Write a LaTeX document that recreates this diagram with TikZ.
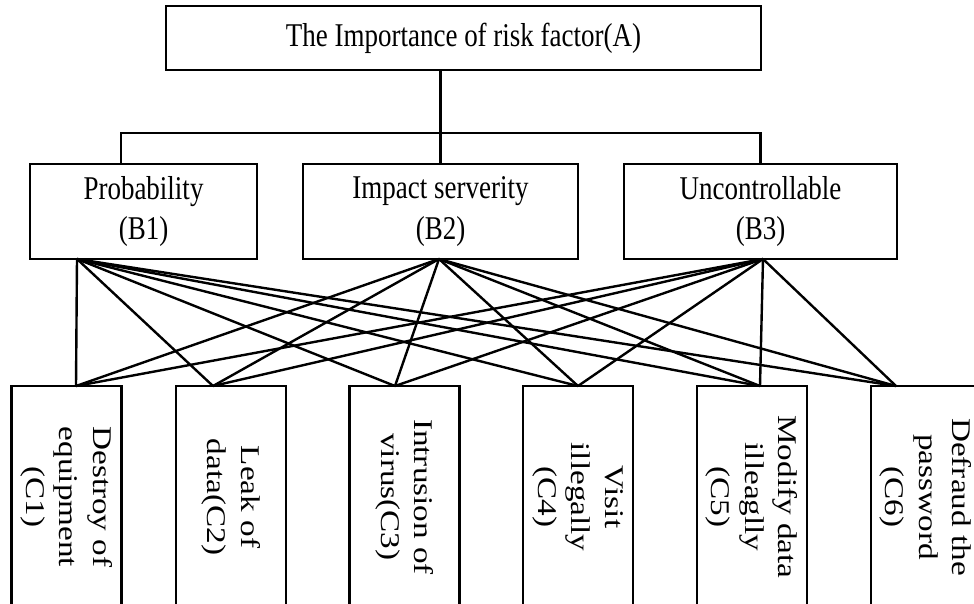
\documentclass[tikz,border=0pt]{standalone}
\usepackage{fontspec}
\setmainfont{Liberation Serif}
\newfontfamily\tallserif[FakeStretch=0.813]{Liberation Serif}
\newfontfamily\wideserif[FakeStretch=1.23]{Liberation Serif}
\begin{document}
\begin{tikzpicture}
        [x=1pt,y=-1pt,line width=2.4pt,
         every node/.style={draw,line width=2.4pt,inner sep=0pt,align=center},
         topbox/.style={minimum width=595pt,minimum height=64pt,font=\tallserif\fontsize{33.2}{40.6}\selectfont},
         midbox/.style={minimum height=95pt,font=\tallserif\fontsize{33.2}{40.6}\selectfont},
         leafbox/.style={rotate=-90,minimum width=222pt,minimum height=110pt,font=\wideserif\fontsize{27}{33.5}\selectfont}]
        \useasboundingbox (0,0) rectangle (974,603);
        \clip (0,0) rectangle (974,603);

        % A
        \node[topbox]  (A)  at      (463.5,38)      {The Importance of risk factor(A)};

        % B
        \node[midbox,minimum width=227pt]  (B1) at  (143.5,211.5)   {Probability\\(B1)};
        \node[midbox,minimum width=275pt]  (B2) at  (440.5,211.5)   {Impact serverity\\(B2)};
        \node[midbox,minimum width=273pt]  (B3) at  (760.5,211.5)   {Uncontrollable\\(B3)};

        % C
        \node[leafbox]  (C1) at     (66.5,497)      {Destroy of\\equipment\\(C1)};
        \node[leafbox]  (C2) at     (231,497)       {Leak of\\data(C2)};
        \node[leafbox]  (C3) at     (404.5,497)     {Intrusion of\\virus(C3)};
        \node[leafbox]  (C4) at     (578,497)       {Visit\\illegally\\(C4)};
        \node[leafbox]  (C5) at     (752,497)       {Modify data\\illeaglly\\(C5)};
        \node[leafbox]  (C6) at     (926,497)       {Defraud the\\password\\(C6)};

        % A to B
        \coordinate (bar1) at (121,133);
        \coordinate (bar3) at (B3.north |- bar1);
        \draw (A.south -| B2.north) -- (B2.north);
        \draw (bar1 |- B1.north) -- (bar1) -- (bar3) -- (B3.north);

        % pins
        \coordinate (b1) at (77,259);
        \coordinate (b2) at (439,259);
        \coordinate (b3) at (763,259);
        \coordinate (c1) at (76,386);
        \coordinate (c2) at (213,386);
        \coordinate (c3) at (395,386);
        \coordinate (c4) at (578,386);
        \coordinate (c5) at (760,386);
        \coordinate (c6) at (896,386);

        % B to C
        \foreach \b in {b1,b2,b3}
            \foreach \c in {c1,c2,c3,c4,c5,c6}
                \draw (\b) -- (\c);
    \end{tikzpicture}
\end{document}
